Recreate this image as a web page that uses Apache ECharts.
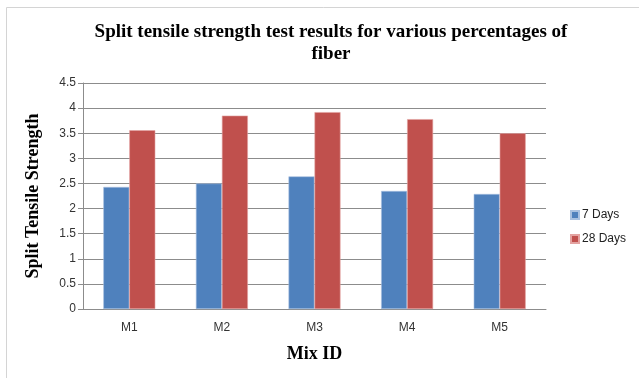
<!DOCTYPE html>
<html>
<head>
<meta charset="utf-8">
<script src="https://cdn.jsdelivr.net/npm/echarts@6/dist/echarts.min.js"></script>
<style>
  html, body { margin: 0; padding: 0; background: #fff; }
  #chart { width: 639px; height: 378px; }
</style>
</head>
<body>
<div id="chart"></div>
<script>
// Mix designs on the category axis
const mixIds = ['M1', 'M2', 'M3', 'M4', 'M5'];
// Split tensile strength after curing
const days7 = [2.43, 2.50, 2.64, 2.35, 2.29];
const days28 = [3.56, 3.85, 3.92, 3.78, 3.50];
const seriesNames = ['7 Days', '28 Days'];

const serif = '"Liberation Serif", "Times New Roman", serif';
const sans = '"Liberation Sans", Arial, sans-serif';

const chart = echarts.init(document.getElementById('chart'), null, { renderer: 'canvas' });
chart.setOption({
  animation: false,
  backgroundColor: '#ffffff',
  title: {
    text: 'Split tensile strength test results for various percentages of\nfiber',
    left: 326,
    textAlign: 'center',
    top: 16,
    textStyle: {
      fontFamily: serif,
      fontWeight: 'bold',
      fontSize: 19,
      lineHeight: 22,
      color: '#000'
    }
  },
  graphic: [{
    type: 'rect',
    shape: { x: 6.5, y: 7.5, width: 700, height: 400 },
    style: { fill: 'none', stroke: '#d4d4d4', lineWidth: 1 },
    silent: true
  }],
  legend: {
    orient: 'vertical',
    left: 565,
    top: 204,
    itemWidth: 8,
    itemHeight: 8,
    itemGap: 12,
    icon: 'rect',
    data: seriesNames,
    textStyle: { fontFamily: sans, fontSize: 12, color: '#222', padding: [0, 0, 0, -2] }
  },
  grid: { left: 83, right: 93, top: 83, bottom: 69 },
  xAxis: {
    type: 'category',
    data: mixIds,
    name: 'Mix ID',
    nameLocation: 'middle',
    nameGap: 36,
    nameTextStyle: { fontFamily: serif, fontWeight: 'bold', fontSize: 18, color: '#000' },
    axisLine: { lineStyle: { color: '#8c8c8c', width: 1 } },
    axisTick: { show: false },
    axisLabel: { fontFamily: sans, fontSize: 12, color: '#333', margin: 13 }
  },
  yAxis: {
    type: 'value',
    min: 0,
    max: 4.5,
    interval: 0.5,
    name: 'Split Tensile Strength',
    nameLocation: 'middle',
    nameGap: 41,
    nameRotate: 90,
    nameTextStyle: { fontFamily: serif, fontWeight: 'bold', fontSize: 18, color: '#000' },
    axisLine: { show: true, lineStyle: { color: '#8c8c8c', width: 1 } },
    axisTick: { show: true, inside: false, length: 5, lineStyle: { color: '#8c8c8c' } },
    axisLabel: { fontFamily: sans, fontSize: 12, color: '#333', margin: 7 },
    splitLine: { lineStyle: { color: '#8c8c8c', width: 1 } }
  },
  series: [
    {
      name: seriesNames[0],
      type: 'bar',
      data: days7,
      barWidth: 26,
      barGap: '0%',
      itemStyle: { color: '#4f81bd', borderColor: '#a9c1e0', borderWidth: 0.6 }
    },
    {
      name: seriesNames[1],
      type: 'bar',
      data: days28,
      barWidth: 26,
      barGap: '0%',
      itemStyle: { color: '#c0504d', borderColor: '#e3a3a1', borderWidth: 0.6 }
    }
  ]
});
</script>
</body>
</html>
